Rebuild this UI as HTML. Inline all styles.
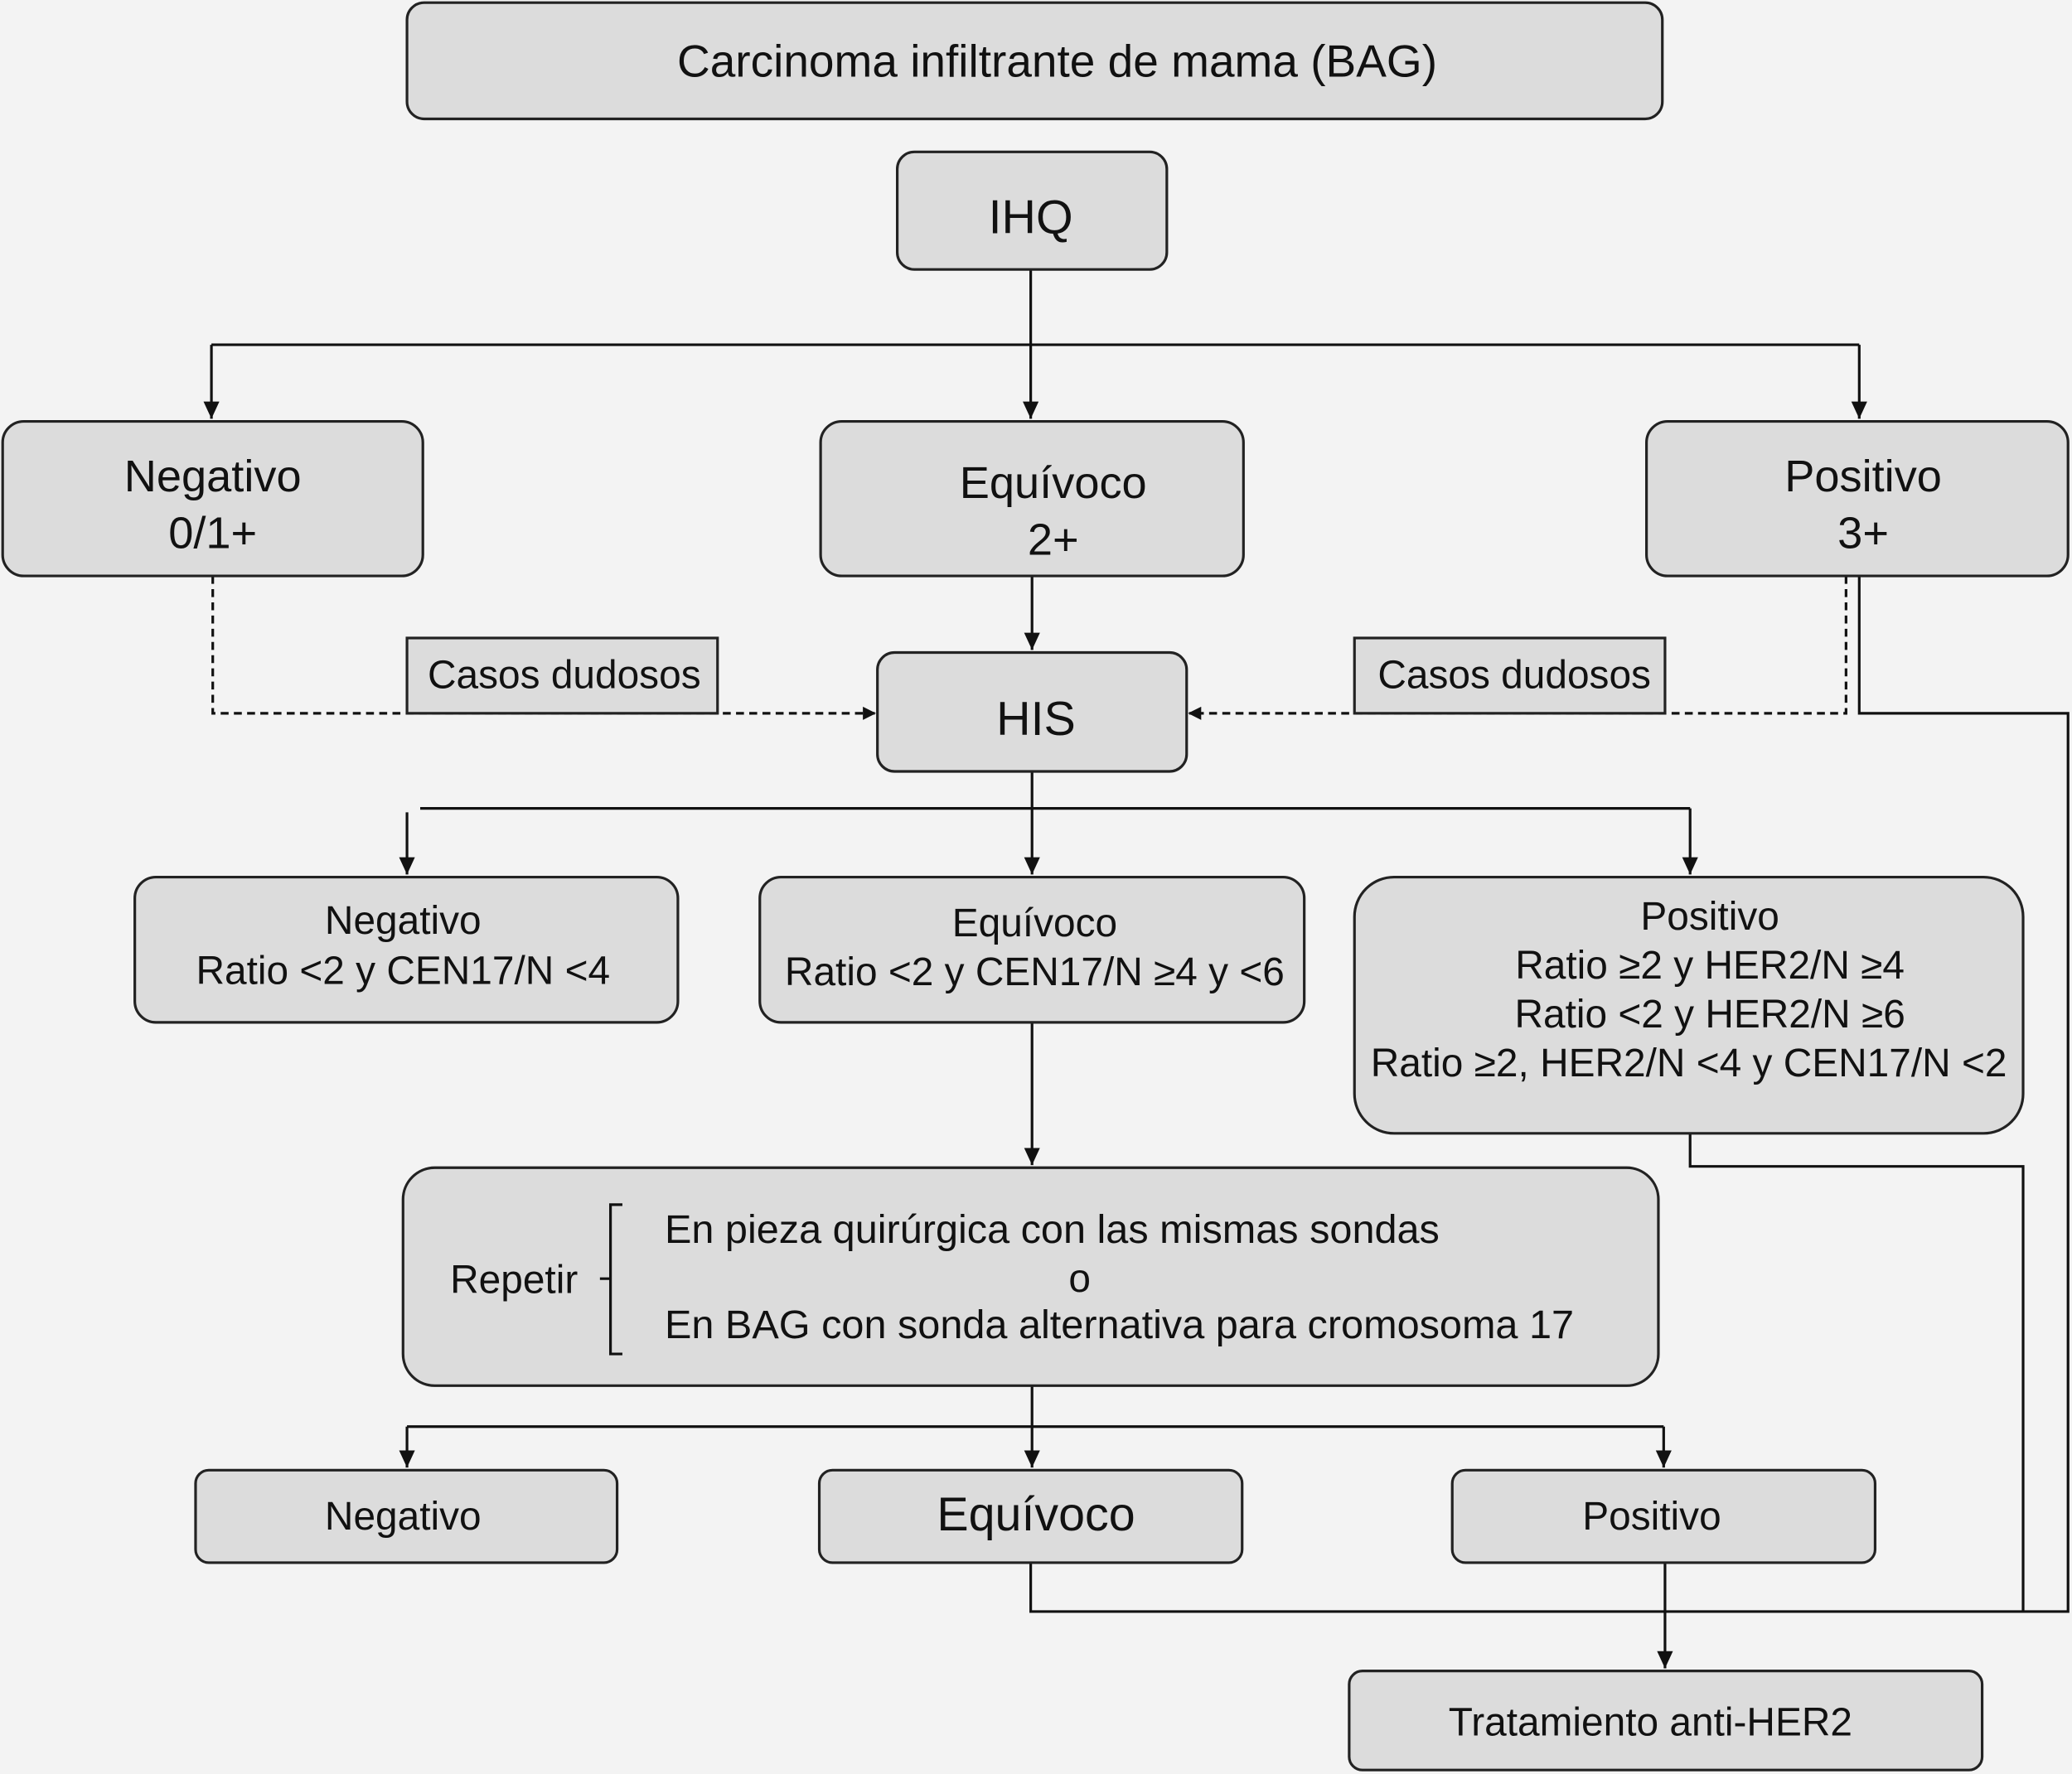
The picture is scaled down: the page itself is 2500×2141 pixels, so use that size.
<!DOCTYPE html>
<html><head><meta charset="utf-8"><style>
html,body{margin:0;padding:0;background:#f3f3f3;}
svg{display:block;}
text{font-family:"Liberation Sans",Arial,sans-serif;fill:#111;text-anchor:middle;dominant-baseline:middle;}
.b{fill:#dcdcdc;stroke:#222;stroke-width:2;}
.l{stroke:#111;stroke-width:2;fill:none;}
.d{stroke:#111;stroke-width:2;fill:none;stroke-dasharray:6,4;}
</style></head><body>
<svg width="2500" height="2141" viewBox="0 0 1568 1343" preserveAspectRatio="none" xmlns="http://www.w3.org/2000/svg">
<defs><marker id="a" markerWidth="10" markerHeight="10" refX="9" refY="5" orient="auto" markerUnits="userSpaceOnUse"><path d="M0,0 L10,5 L0,10 z" fill="#111"/></marker>
<marker id="s" markerWidth="14" markerHeight="14" refX="13" refY="6" orient="auto" markerUnits="userSpaceOnUse"><path d="M0,0 L13,6 L0,12 z" fill="#111"/></marker></defs>
<rect width="1568" height="1343" fill="#f3f3f3"/>
<path class="l" d="M780,204 V317" marker-end="url(#s)"/>
<path class="l" d="M160,261 H1407"/>
<path class="l" d="M160,261 V317" marker-end="url(#s)"/>
<path class="l" d="M1407,261 V317" marker-end="url(#s)"/>
<path class="l" d="M781,436 V492" marker-end="url(#s)"/>
<path class="d" d="M161,436 V540 H662" marker-end="url(#a)"/>
<path class="d" d="M1397,436 V540 H900" marker-end="url(#a)"/>
<path class="l" d="M1407,436 V540 H1565 V1220 H780 V1183"/>
<path class="l" d="M1279,858 V883 H1531 V1220"/>
<path class="l" d="M781,584 V662" marker-end="url(#s)"/>
<path class="l" d="M318,612 H1279"/>
<path class="l" d="M308,615 V662" marker-end="url(#s)"/>
<path class="l" d="M1279,612 V662" marker-end="url(#s)"/>
<path class="l" d="M781,774 V882" marker-end="url(#s)"/>
<path class="l" d="M781,1049 V1111" marker-end="url(#s)"/>
<path class="l" d="M308,1080 H1259"/>
<path class="l" d="M308,1080 V1111" marker-end="url(#s)"/>
<path class="l" d="M1259,1080 V1111" marker-end="url(#s)"/>
<path class="l" d="M1260,1183 V1263" marker-end="url(#s)"/>
<rect class="b" x="308" y="2" width="950" height="88" rx="13"/>
<text x="800" y="49" font-size="34.5">Carcinoma infiltrante de mama (BAG)</text>
<rect class="b" x="679" y="115" width="204" height="89" rx="13"/>
<text x="780" y="167" font-size="36">IHQ</text>
<rect class="b" x="2" y="319" width="318" height="117" rx="16"/>
<text x="161" y="363" font-size="34">Negativo</text><text x="161" y="406" font-size="34">0/1+</text>
<rect class="b" x="621" y="319" width="320" height="117" rx="16"/>
<text x="797" y="368" font-size="34">Equívoco</text><text x="797" y="411" font-size="34">2+</text>
<rect class="b" x="1246" y="319" width="319" height="117" rx="16"/>
<text x="1410" y="363" font-size="34">Positivo</text><text x="1410" y="406" font-size="34">3+</text>
<rect class="b" x="308" y="483" width="235" height="57" rx="0" stroke-width="1.5"/>
<text x="427" y="513" font-size="30">Casos dudosos</text>
<rect class="b" x="1025" y="483" width="235" height="57" rx="0" stroke-width="1.5"/>
<text x="1146" y="513" font-size="30">Casos dudosos</text>
<rect class="b" x="664" y="494" width="234" height="90" rx="13"/>
<text x="784" y="547" font-size="36">HIS</text>
<rect class="b" x="102" y="664" width="411" height="110" rx="16"/>
<text x="305" y="699" font-size="30">Negativo</text><text x="305" y="737" font-size="30">Ratio &lt;2 y CEN17/N &lt;4</text>
<rect class="b" x="575" y="664" width="412" height="110" rx="16"/>
<text x="783" y="701" font-size="30">Equívoco</text><text x="783" y="738" font-size="30">Ratio &lt;2 y CEN17/N ≥4 y &lt;6</text>
<rect class="b" x="1025" y="664" width="506" height="194" rx="30"/>
<text x="1294" y="696" font-size="30">Positivo</text>
<text x="1294" y="733" font-size="30">Ratio ≥2 y HER2/N ≥4</text>
<text x="1294" y="770" font-size="30">Ratio &lt;2 y HER2/N ≥6</text>
<text x="1278" y="807" font-size="30">Ratio ≥2, HER2/N &lt;4 y CEN17/N &lt;2</text>
<rect class="b" x="305" y="884" width="950" height="165" rx="24"/>
<text x="389" y="971" font-size="30">Repetir</text>
<path class="l" d="M471,912 H462 V1025 H471 M462,968 H454"/>
<text x="503" y="933" font-size="30.5" style="text-anchor:start">En pieza quirúrgica con las mismas sondas</text>
<text x="817" y="970" font-size="30">o</text>
<text x="503" y="1005" font-size="30.5" style="text-anchor:start">En BAG con sonda alternativa para cromosoma 17</text>
<rect class="b" x="148" y="1113" width="319" height="70" rx="10"/>
<text x="305" y="1150" font-size="30">Negativo</text>
<rect class="b" x="620" y="1113" width="320" height="70" rx="10"/>
<text x="784" y="1149" font-size="36">Equívoco</text>
<rect class="b" x="1099" y="1113" width="320" height="70" rx="10"/>
<text x="1250" y="1150" font-size="30">Positivo</text>
<rect class="b" x="1021" y="1265" width="479" height="75" rx="10"/>
<text x="1249" y="1306" font-size="30">Tratamiento anti-HER2</text>
</svg>
</body></html>
